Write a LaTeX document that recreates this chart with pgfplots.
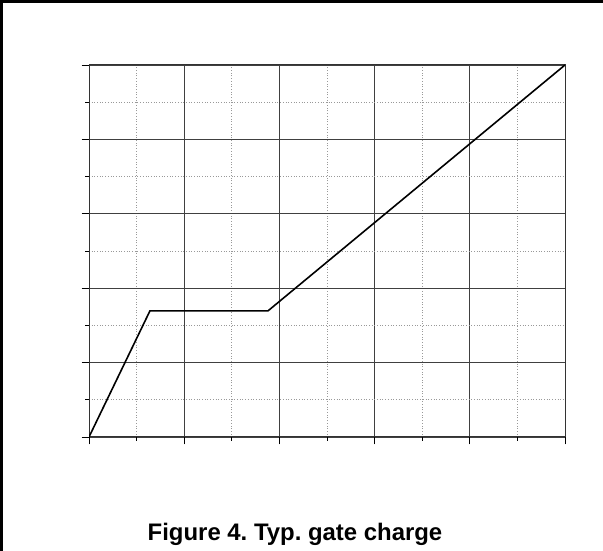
\documentclass[border=0pt]{standalone}
\usepackage{pgfplots}
\pgfplotsset{compat=1.18}
\usepackage{fontspec}
\setmainfont{Liberation Sans}
\frenchspacing
\begin{document}
\begin{tikzpicture}[x=1bp,y=1bp]
\path[use as bounding box] (0,0) rectangle (603,551);
\draw[line width=3bp] (0,549.5) -- (603,549.5);
\draw[line width=2.5bp] (1.25,551) -- (1.25,0);
\begin{axis}[
  at={(89bp,114bp)}, anchor=south west,
  scale only axis, width=476bp, height=372bp,
  xmin=0, xmax=10, ymin=0, ymax=10,
  xtick={0,2,...,10}, ytick={0,2,...,10},
  minor xtick={1,3,...,9}, minor ytick={1,3,...,9},
  xticklabels={}, yticklabels={},
  tick align=outside,
  xtick pos=bottom, ytick pos=left,
  major tick length=7.5bp, minor tick length=4bp,
  every tick/.style={black, line width=0.9bp},
  grid=both,
  major grid style={black!75, line width=0.9bp},
  minor grid style={black!40, line width=0.7bp, dotted},
  axis line style={black!80, line width=1bp},
]
\addplot[black, line width=1.6bp, mark=none] coordinates {
  (0,0) (1.28,3.39) (3.76,3.39) (10,10)
};
\end{axis}
\node[font=\bfseries\fontsize{24}{28}\selectfont, anchor=base] at (295,10) {Figure 4. Typ. gate charge};
\end{tikzpicture}
\end{document}
